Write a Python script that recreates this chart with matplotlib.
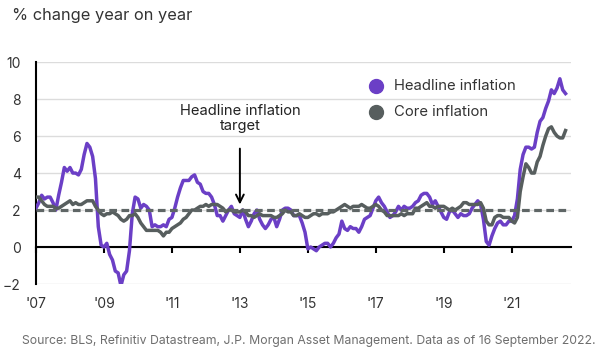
import numpy as np
import matplotlib.pyplot as plt

plt.rcParams['font.family'] = ['Inter', 'DejaVu Sans']

# monthly US CPI, % change year on year, Jan 2007 - Aug 2022
headline = [
    2.1, 2.4, 2.8, 2.6, 2.7, 2.7, 2.4, 2.0, 2.8, 3.5, 4.3, 4.1,   # 2007
    4.3, 4.0, 4.0, 3.9, 4.2, 5.0, 5.6, 5.4, 4.9, 3.7, 1.1, 0.1,   # 2008
    0.0, 0.2, -0.4, -0.7, -1.3, -1.4, -2.1, -1.5, -1.3, -0.2, 1.8, 2.7,  # 2009
    2.6, 2.1, 2.3, 2.2, 2.0, 1.1, 1.2, 1.1, 1.1, 1.2, 1.1, 1.5,   # 2010
    1.6, 2.1, 2.7, 3.2, 3.6, 3.6, 3.6, 3.8, 3.9, 3.5, 3.4, 3.0,   # 2011
    2.9, 2.9, 2.7, 2.3, 1.7, 1.7, 1.4, 1.7, 2.0, 2.2, 1.8, 1.7,   # 2012
    1.6, 2.0, 1.5, 1.1, 1.4, 1.8, 2.0, 1.5, 1.2, 1.0, 1.2, 1.5,   # 2013
    1.6, 1.1, 1.5, 2.0, 2.1, 2.1, 2.0, 1.7, 1.7, 1.7, 1.3, 0.8,   # 2014
    -0.1, 0.0, -0.1, -0.2, 0.0, 0.1, 0.2, 0.2, 0.0, 0.2, 0.5, 0.7,  # 2015
    1.4, 1.0, 0.9, 1.1, 1.0, 1.0, 0.8, 1.1, 1.5, 1.6, 1.7, 2.1,   # 2016
    2.5, 2.7, 2.4, 2.2, 1.9, 1.6, 1.7, 1.9, 2.2, 2.0, 2.2, 2.1,   # 2017
    2.1, 2.2, 2.4, 2.5, 2.8, 2.9, 2.9, 2.7, 2.3, 2.5, 2.2, 1.9,   # 2018
    1.6, 1.5, 1.9, 2.0, 1.8, 1.6, 1.8, 1.7, 1.7, 1.8, 2.1, 2.3,   # 2019
    2.5, 2.3, 1.5, 0.3, 0.1, 0.6, 1.0, 1.3, 1.4, 1.2, 1.2, 1.4,   # 2020
    1.4, 1.7, 2.6, 4.2, 5.0, 5.4, 5.4, 5.3, 5.4, 6.2, 6.8, 7.0,   # 2021
    7.5, 7.9, 8.5, 8.3, 8.6, 9.1, 8.5, 8.3,                       # 2022
]
core = [
    2.7, 2.7, 2.5, 2.3, 2.2, 2.2, 2.2, 2.1, 2.1, 2.2, 2.3, 2.4,
    2.5, 2.3, 2.4, 2.3, 2.3, 2.4, 2.5, 2.5, 2.5, 2.2, 2.0, 1.8,
    1.7, 1.8, 1.8, 1.9, 1.8, 1.7, 1.5, 1.4, 1.5, 1.7, 1.7, 1.8,
    1.6, 1.3, 1.1, 0.9, 0.9, 0.9, 0.9, 0.9, 0.8, 0.6, 0.8, 0.8,
    1.0, 1.1, 1.2, 1.3, 1.5, 1.6, 1.8, 2.0, 2.0, 2.1, 2.2, 2.2,
    2.3, 2.2, 2.3, 2.3, 2.3, 2.2, 2.1, 1.9, 2.0, 2.0, 1.9, 1.9,
    1.9, 2.0, 1.9, 1.7, 1.7, 1.6, 1.7, 1.8, 1.7, 1.7, 1.7, 1.7,
    1.6, 1.6, 1.7, 1.8, 2.0, 1.9, 1.9, 1.7, 1.7, 1.8, 1.7, 1.6,
    1.6, 1.7, 1.8, 1.8, 1.7, 1.8, 1.8, 1.8, 1.9, 1.9, 2.0, 2.1,
    2.2, 2.3, 2.2, 2.1, 2.2, 2.2, 2.2, 2.3, 2.2, 2.1, 2.1, 2.2,
    2.3, 2.2, 2.0, 1.9, 1.7, 1.7, 1.7, 1.7, 1.7, 1.8, 1.7, 1.8,
    1.8, 1.8, 2.1, 2.1, 2.2, 2.3, 2.4, 2.2, 2.2, 2.1, 2.2, 2.2,
    2.2, 2.1, 2.0, 2.1, 2.0, 2.1, 2.2, 2.4, 2.4, 2.3, 2.3, 2.3,
    2.3, 2.4, 2.1, 1.4, 1.2, 1.2, 1.6, 1.7, 1.7, 1.6, 1.6, 1.6,
    1.4, 1.3, 1.6, 3.0, 3.8, 4.5, 4.3, 4.0, 4.0, 4.6, 4.9, 5.5,
    6.0, 6.4, 6.5, 6.2, 6.0, 5.9, 5.9, 6.3,
]
target = 2.0
year_ticks = [2007, 2009, 2011, 2013, 2015, 2017, 2019, 2021]
year_labels = ["'07", "'09", "'11", "'13", "'15", "'17", "'19", "'21"]

purple = '#6b3fc6'
grey = '#575e5e'
txt = '#333333'

t = 2007 + np.arange(len(headline)) / 12.0

fig = plt.figure(figsize=(6, 3.55), dpi=100)
ax = fig.add_axes([0.06, 0.2, 0.892, 0.625])

for v in range(-2, 11, 2):
    ax.axhline(v, color='#dcdcdc', lw=1, zorder=0)

ax.plot(t, headline, color=purple, lw=2.5, zorder=3, solid_joinstyle='round')
ax.plot(t, core, color=grey, lw=2.5, zorder=4, solid_joinstyle='round')
ax.plot([t[0], t[-1]], [target, target], color='#5f6666', lw=2.3,
        ls=(0, (2.4, 1.4)), zorder=5)

ax.set_xlim(2007, 2022.75)
ax.set_ylim(-2, 10)
ax.set_yticks(range(-2, 11, 2))
ax.tick_params(axis='y', length=0, pad=11, labelsize=10, labelcolor=txt)

# axis line through zero with small ticks, labels sit below the chart
for s in ['top', 'right']:
    ax.spines[s].set_visible(False)
ax.spines['left'].set_color('black')
ax.spines['left'].set_linewidth(1.5)
ax.spines['bottom'].set_position(('data', 0))
ax.spines['bottom'].set_linewidth(1.5)
ax.set_xticks(year_ticks)
ax.set_xticklabels([])
ax.tick_params(axis='x', direction='out', length=4, width=1.5)

sec = ax.secondary_xaxis(0.0)
sec.set_xticks(year_ticks)
sec.set_xticklabels(year_labels)
sec.spines['bottom'].set_visible(False)
sec.tick_params(length=0, pad=9, labelsize=10, labelcolor=txt)

# legend drawn as markers + text
ax.plot([2017.0], [8.7], 'o', color=purple, ms=10, clip_on=False)
ax.plot([2017.0], [7.3], 'o', color=grey, ms=10, clip_on=False)
ax.text(2017.55, 8.7, 'Headline inflation', va='center', fontsize=10.7, color=txt)
ax.text(2017.55, 7.3, 'Core inflation', va='center', fontsize=10.7, color=txt)

ax.annotate('Headline inflation\ntarget', xy=(2013.0, 2.3), xytext=(2013.0, 6.95),
            ha='center', va='center', fontsize=10.6, color='#222222', linespacing=1.15,
            arrowprops=dict(arrowstyle='->', color='black', lw=1.4,
                            shrinkA=9, shrinkB=0, mutation_scale=14))

fig.text(0.02, 0.955, '% change year on year', fontsize=11.8, color=txt, va='center')
fig.text(0.037, 0.04, 'Source: BLS, Refinitiv Datastream, J.P. Morgan Asset Management. Data as of 16 September 2022.',
         fontsize=8.8, color='#6e6e6e', va='center')

fig.savefig('out.png', dpi=100)
